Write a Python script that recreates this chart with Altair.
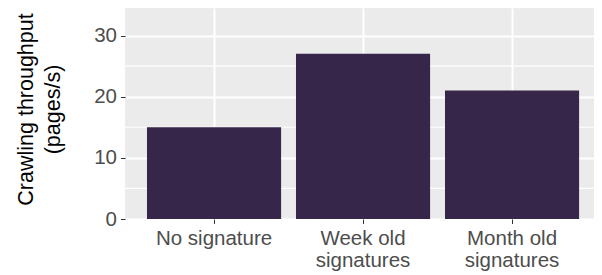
import altair as alt
import pandas as pd

categories = ["No signature", "Week old signatures", "Month old signatures"]
throughput = [15, 27, 21]
major_breaks = [0, 10, 20, 30]
minor_breaks = [5, 15, 25]

df = pd.DataFrame({"cat": categories, "val": throughput})
minor_df = pd.DataFrame({"v": minor_breaks})

FONT = "Liberation Sans"
yscale = alt.Scale(domain=[0, 34.5], nice=False, zero=True)

x_enc = alt.X(
    "cat:N",
    sort=categories,
    scale=alt.Scale(paddingInner=0.1, paddingOuter=0.1238, align=0.596),
    axis=alt.Axis(
        title=None, grid=True, gridColor="white", gridWidth=2, domain=False,
        ticks=True, tickColor="#333333", tickSize=4.5, tickWidth=1,
        labelFont=FONT, labelFontSize=20.5, labelColor="#4D4D4D",
        labelPadding=5, labelAngle=0, labelLineHeight=22,
        labelExpr="split(replace(datum.label, 'old ', 'old|'), '|')",
    ),
)

y_enc = alt.Y(
    "val:Q",
    scale=yscale,
    axis=alt.Axis(
        values=major_breaks, grid=True, gridColor="white", gridWidth=2,
        domain=False, tickColor="#333333", tickSize=4.5, tickWidth=1,
        labelFont=FONT, labelFontSize=20.5, labelColor="#4D4D4D", labelPadding=4,
        title=["Crawling throughput", "(pages/s)"], titleFont=FONT,
        titleFontSize=21.5, titleColor="black", titleFontWeight="normal",
        titleX=-93, titleY=101, titleAngle=-90, titleBaseline="alphabetic",
        titleAlign="center", titleLineHeight=27,
    ),
)

minor = alt.Chart(minor_df).mark_rule(color="white", strokeWidth=1.1).encode(
    y=alt.Y("v:Q", scale=yscale)
)

bars = alt.Chart(df).mark_bar(color="#36264A").encode(x=x_enc, y=y_enc)

chart = alt.layer(minor, bars).properties(
    width=469,
    height=211,
    background="white",
    autosize=alt.AutoSizeParams(type="none"),
    padding={"left": 117, "top": 0, "right": 0, "bottom": 56},
).configure_view(fill="#EBEBEB", stroke=None)

chart.save("out.html", embed_options={"renderer": "svg", "actions": False})
